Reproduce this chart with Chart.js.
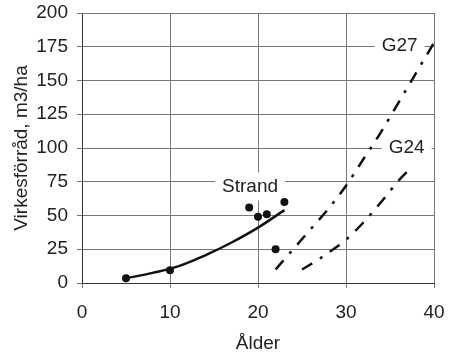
<!DOCTYPE html>
<html>
<head>
<meta charset="utf-8">
<script src="https://cdn.jsdelivr.net/npm/chart.js@4.4.1/dist/chart.umd.min.js"></script>
<style>body{margin:0;background:#fff}</style>
</head>
<body>
<canvas id="chart" width="450" height="358"></canvas>
<script>
// observed stands (Strand)
const strandAge = [5, 10, 19, 20, 21, 22, 23];
const strandVol = [3.5, 9.5, 56, 49, 51, 25, 60];
// fitted Strand curve
const strandFitAge = [5, 8, 11, 14, 17, 20, 23];
const strandFitVol = [3.5, 7.5, 12.5, 20.5, 30, 41, 54];
// yield curves
const g27Age = [22, 24, 26, 28, 30, 32, 34, 36, 38, 40];
const g27Vol = [10, 25, 40, 55, 72, 92, 112, 134, 156, 178];
const g24Age = [25, 27, 29, 30, 32, 34, 36, 37.5];
const g24Vol = [10, 18, 27, 32, 45, 60, 76, 86];

const curveLabels = [
  { text: "Strand", x: 19.1, y: 71.5 },
  { text: "G27", x: 36.1, y: 176 },
  { text: "G24", x: 36.9, y: 100 },
];

const FONT = "'Liberation Sans', Arial, sans-serif";
Chart.defaults.font.family = FONT;
Chart.defaults.font.size = 19;
Chart.defaults.color = "#222";

const pts = (xs, ys) => xs.map((x, i) => ({ x: x, y: ys[i] }));

// frame + labels with white boxes
const extras = {
  id: "extras",
  beforeDatasetsDraw(chart) {
    const { ctx, chartArea: a, scales } = chart;
    ctx.save();
    ctx.strokeStyle = "#777";
    ctx.lineWidth = 1;
    ctx.beginPath();
    ctx.moveTo(a.left, a.top + 0.5);
    ctx.lineTo(a.right + 0.5, a.top + 0.5);
    ctx.lineTo(a.right + 0.5, a.bottom);
    ctx.stroke();

    ctx.font = "19px " + FONT;
    ctx.textAlign = "center";
    ctx.textBaseline = "middle";
    curveLabels.forEach((l) => {
      const px = scales.x.getPixelForValue(l.x);
      const py = scales.y.getPixelForValue(l.y);
      const w = ctx.measureText(l.text).width + 14;
      ctx.fillStyle = "#fff";
      ctx.fillRect(px - w / 2, py - 14, w, 28);
      ctx.fillStyle = "#222";
      ctx.fillText(l.text, px, py);
    });
    ctx.restore();
  },
};

const dashed = (xs, ys) => ({
  data: pts(xs, ys),
  showLine: true,
  borderColor: "#111",
  borderWidth: 2.5,
  borderDash: [12, 9, 3, 9],
  pointRadius: 0,
  cubicInterpolationMode: "monotone",
});

new Chart(document.getElementById("chart"), {
  type: "scatter",
  data: {
    datasets: [
      {
        data: pts(strandFitAge, strandFitVol),
        showLine: true,
        borderColor: "#111",
        borderWidth: 2.5,
        pointRadius: 0,
        tension: 0.4,
      },
      dashed(g27Age, g27Vol),
      dashed(g24Age, g24Vol),
      {
        data: pts(strandAge, strandVol),
        pointRadius: 4,
        backgroundColor: "#111",
        borderWidth: 0,
      },
    ],
  },
  options: {
    responsive: false,
    animation: false,
    layout: { padding: { top: 13, right: 16, left: 0, bottom: 0 } },
    plugins: { legend: { display: false }, tooltip: { enabled: false } },
    scales: {
      x: {
        type: "linear",
        min: 0,
        max: 40,
        ticks: { stepSize: 10, padding: 13, color: "#222" },
        grid: { color: "#777", tickLength: 5 },
        border: { color: "#333" },
        title: { display: true, text: "Ålder", padding: { bottom: 3, top: 0 } },
        afterFit: (s) => {
          s.height = 75;
          s.paddingLeft = 0;
          s.paddingRight = 0;
        },
      },
      y: {
        min: 0,
        max: 200,
        ticks: { stepSize: 25, padding: 9, color: "#222" },
        grid: { color: "#777", tickLength: 5 },
        border: { color: "#333" },
        title: { display: true, text: "Virkesförråd, m3/ha", padding: { top: 10, bottom: 0 } },
        afterFit: (s) => {
          s.width = 82;
          s.paddingTop = 0;
          s.paddingBottom = 0;
        },
      },
    },
  },
  plugins: [extras],
});
</script>
</body>
</html>
